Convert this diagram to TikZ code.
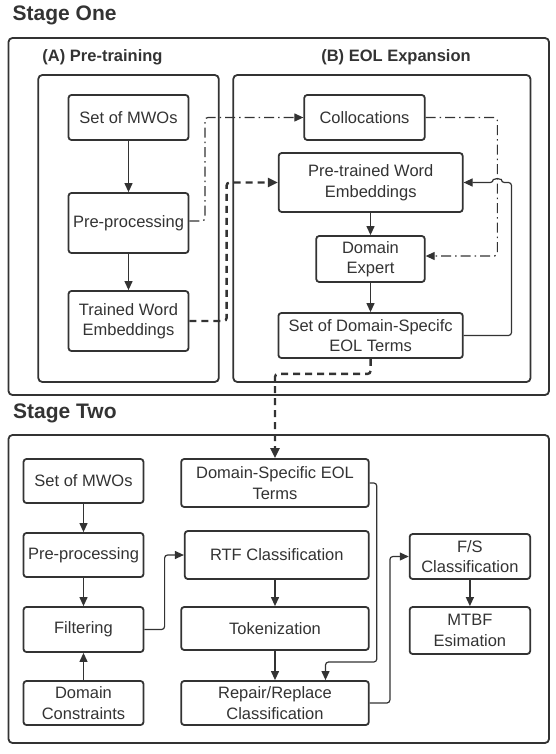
\documentclass[tikz,border=0pt]{standalone}
\usepackage{fontspec}
\setmainfont{Liberation Sans}
\usetikzlibrary{arrows.meta}
\definecolor{ink}{HTML}{333333}
\tikzset{
  box/.style={draw=ink, line width=1.8pt, rounded corners=3pt, inner sep=0pt, align=center, text=ink, font=\fontsize{16.5}{20.5}\selectfont},
  frame/.style={draw=ink, line width=1.8pt, rounded corners=4pt},
  heading/.style={text=ink, font=\bfseries\fontsize{21}{24}\selectfont, anchor=west, inner sep=0pt},
  subheading/.style={text=ink, font=\bfseries\fontsize{16.5}{20}\selectfont, inner sep=0pt},
  flow/.style={draw=ink, line width=1.2pt, rounded corners=3pt, -{Triangle[length=9pt,width=8pt]}},
  dashdot/.style={flow, dash pattern=on 10pt off 4pt on 1.5pt off 4pt},
  heavy/.style={flow, line width=2.4pt, dash pattern=on 7pt off 5pt, -{Triangle[length=10pt,width=9pt]}},
}
\begin{document}
\begin{tikzpicture}[x=1pt, y=-1pt]
    \useasboundingbox (0,0) rectangle (556,754);
    \node [heading] (s1) at (12.5,15) {Stage One};
    \draw [frame] (8.5,38) rectangle (549,395);
    \node [subheading] (ta) at (102.5,57) {(A) Pre-training};
    \node [subheading] (tb) at (396,57) {(B) EOL Expansion};
    \draw [frame] (38.3,75) rectangle (218.8,382);
    \draw [frame] (233.3,75) rectangle (530.5,382);
    \node [box, minimum width=120pt, minimum height=45pt] (mwoA) at (128.5,117.5) {Set of MWOs};
    \node [box, minimum width=120pt, minimum height=60pt] (prepA) at (128.5,223) {Pre-processing};
    \node [box, minimum width=120pt, minimum height=60pt] (twe) at (128.5,321) {Trained Word\\Embeddings};
    \node [box, minimum width=120.5pt, minimum height=45pt] (coll) at (364.5,117.5) {Collocations};
    \node [box, minimum width=184pt, minimum height=59pt] (pwe) at (370.7,182.5) {Pre-trained Word\\Embeddings};
    \node [box, minimum width=108.5pt, minimum height=46pt] (expert) at (370.5,259) {Domain\\Expert};
    \node [box, minimum width=184.4pt, minimum height=45pt] (eolset) at (370.6,335.5) {Set of Domain-Specifc\\EOL Terms};
    \draw [flow] (mwoA) -- (prepA);
    \draw [flow] (prepA) -- (twe);
    \draw [flow] (pwe.south -| expert.north) -- (expert.north);
    \draw [flow] (expert.south) -- (expert.south |- eolset.north);
    \draw [dashdot] ([yshift=2pt]prepA.east) -- ++(15.5,0) |- (coll.west);
    \draw [dashdot] (coll.east) -- ++(71.7,0) |- ([yshift=3pt]expert.east);
    \draw [flow] (eolset.east) -- ++(47.8,0) |- ([xshift=37.7pt]pwe.east) arc (0:180:4pt) -- (pwe.east);
    \draw [heavy] (twe.east) -- ++(37.2,0) |- (pwe.west);
    \node [heading] (s2) at (13,413) {Stage Two};
    \draw [frame] (8.5,435) rectangle (549,743);
    \node [box, minimum width=120pt, minimum height=44pt] (mwoB) at (83.5,481) {Set of MWOs};
    \node [box, minimum width=120pt, minimum height=44pt] (prepB) at (83.5,555) {Pre-processing};
    \node [box, minimum width=120pt, minimum height=45pt] (filt) at (83.5,629.5) {Filtering};
    \node [box, minimum width=120pt, minimum height=44pt] (cons) at (83.5,703) {Domain\\Constraints};
    \node [box, minimum width=187.6pt, minimum height=48pt] (dseol) at (275,483) {Domain-Specific EOL\\Terms};
    \node [box, minimum width=184pt, minimum height=48pt] (rtf) at (276.8,555) {RTF Classification};
    \node [box, minimum width=187.6pt, minimum height=43pt] (tok) at (275,628.5) {Tokenization};
    \node [box, minimum width=187.6pt, minimum height=44pt] (repair) at (275,703) {Repair/Replace\\Classification};
    \node [box, minimum width=120.5pt, minimum height=45pt] (fs) at (469.9,556.5) {F/S\\Classification};
    \node [box, minimum width=120.5pt, minimum height=47pt] (mtbf) at (469.9,630.5) {MTBF\\Esimation};
    \draw [heavy] (eolset.south) -- ++(0,15) -| (dseol.north);
    \draw [flow] (mwoB) -- (prepB);
    \draw [flow] (prepB) -- (filt);
    \draw [flow] (cons) -- (filt);
    \draw [flow] (filt.east) -- ++(20.2,0) |- (rtf.west);
    \draw [flow] (rtf.south -| tok.north) -- (tok.north);
    \draw [flow] (tok) -- (repair);
    \draw [flow] (dseol.east) -- ++(7.1,0) -- ++(0,179) -| ([xshift=50.5pt]repair.north);
    \draw [flow] (repair.east) -- ++(20.2,0) |- (fs.west);
    \draw [flow] (fs) -- (mtbf);
\end{tikzpicture}
\end{document}
